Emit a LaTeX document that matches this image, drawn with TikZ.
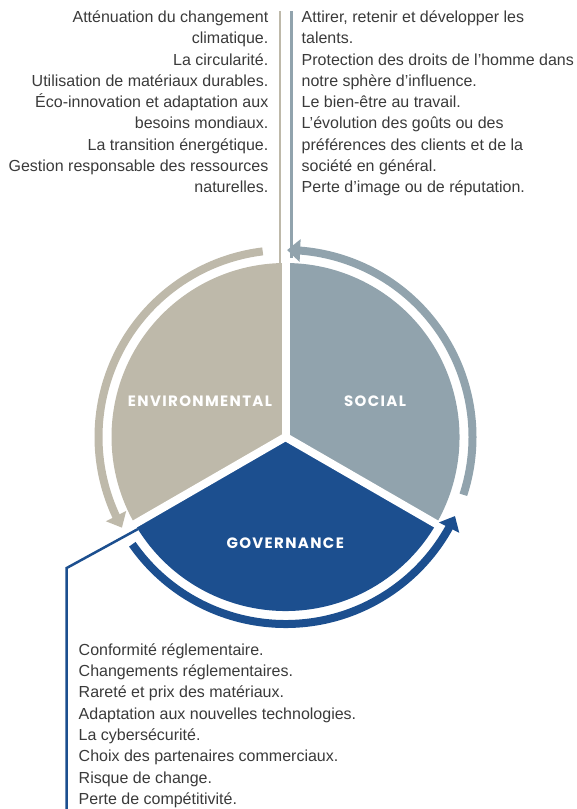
\documentclass[tikz,border=0pt]{standalone}
\usepackage{fontspec}
\setmainfont{Liberation Sans}
\newfontfamily\pillarfont{Poppins}[LetterSpace=9]
\usetikzlibrary{arrows.meta,bending}
\definecolor{envbeige}{RGB}{190,185,170}
\definecolor{socgrey}{RGB}{145,163,173}
\definecolor{govblue}{RGB}{28,79,143}
\definecolor{txtgrey}{RGB}{58,58,58}
\tikzset{ % Common looks
	pillar/.style={font=\pillarfont\bfseries\fontsize{15}{16}\selectfont, text=white},
	risklist/.style={font=\fontsize{16}{21.3}\selectfont, text=txtgrey, inner sep=0pt},
	cyclearrow/.style={line width=8pt, -{Triangle[length=13pt,width=22pt]}},
	leader/.style={line width=2.5pt},
	gap/.style={white, line width=8pt, line cap=round}
}

\begin{document}
\begin{tikzpicture}[x=1pt,y=1pt]
			\useasboundingbox (0,0) rectangle (577,-809);
			\coordinate (C) at (285.5,-437);
			% Sectors
			\fill [envbeige] (C) -- ++(90:174) arc [start angle=90, end angle=210, radius=174] -- cycle;
			\fill [socgrey] (C) -- ++(-30:174) arc [start angle=-30, end angle=90, radius=174] -- cycle;
			\fill [govblue] (C) -- ++(210:174) arc [start angle=210, end angle=330, radius=174] -- cycle;
			\foreach \a in {90,210,330}
				\draw [gap] (C) -- ++(\a:175);
			% Cycle arrows
			\draw [cyclearrow, envbeige] ([shift={(97:187)}]C) arc [start angle=97, end angle=209, radius=187];
			\draw [cyclearrow, socgrey] ([shift={(-18:187)}]C) arc [start angle=-18, end angle=89.5, radius=187];
			\draw [cyclearrow, govblue] ([shift={(215:187)}]C) arc [start angle=215, end angle=335, radius=187];
			% Labels
			\node [pillar] (envlabel) at (200,-401.7) {ENVIRONMENTAL};
			\node [pillar] (soclabel) at (375,-401.7) {SOCIAL};
			\node [pillar] (govlabel) at (285.2,-543) {GOVERNANCE};
			% Lists
			\node [risklist, anchor=north east, align=right] (envlist) at (268.5,-10.5)
				{Atténuation du changement\\climatique.\\La circularité.\\Utilisation de matériaux durables.\\Éco-innovation et adaptation aux\\besoins mondiaux.\\La transition énergétique.\\Gestion responsable des ressources\\naturelles.};
			\node [risklist, anchor=north west, align=left] (soclist) at (301.5,-10.5)
				{Attirer, retenir et développer les\\talents.\\Protection des droits de l’homme dans\\notre sphère d’influence.\\Le bien-être au travail.\\L’évolution des goûts ou des\\préférences des clients et de la\\société en général.\\Perte d’image ou de réputation.};
			\node [risklist, anchor=south west, align=left] (govlist) at (78.5,-808)
				{Conformité réglementaire.\\Changements réglementaires.\\Rareté et prix des matériaux.\\Adaptation aux nouvelles technologies.\\La cybersécurité.\\Choix des partenaires commerciaux.\\Risque de change.\\Perte de compétitivité.};
			% Leader lines
			\coordinate (envtop) at (280,-11);
			\coordinate (envfoot) at (280,-266);
			\coordinate (soctop) at (291.5,-11);
			\coordinate (socfoot) at (291.5,-258);
			\coordinate (govcorner) at (138,-529);
			\coordinate (govbend) at (66.7,-568);
			\coordinate (govfoot) at (66.7,-809);
			\draw [leader, envbeige] (envtop) -- (envfoot);
			\draw [leader, socgrey] (soctop) -- (socfoot);
			\draw [leader, govblue] (govcorner) -- (govbend) -- (govfoot);
		\end{tikzpicture}
\end{document}
